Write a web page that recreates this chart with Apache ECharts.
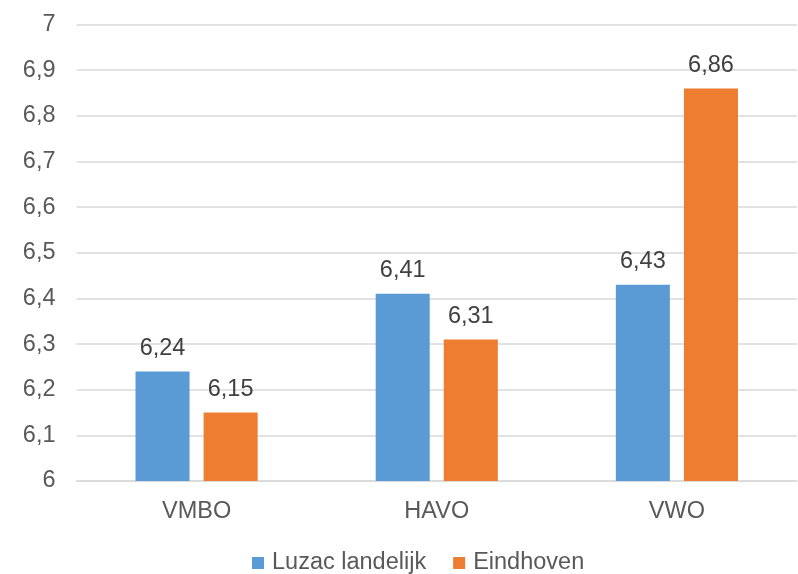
<!DOCTYPE html>
<html><head><meta charset="utf-8">
<script src="https://cdn.jsdelivr.net/npm/echarts@6/dist/echarts.min.js"></script>
<style>html,body{margin:0;padding:0;background:#fff}#c{width:798px;height:574px}</style>
</head><body><div id="c"></div>
<script>
const categories = ['VMBO', 'HAVO', 'VWO'];
const luzac = [6.24, 6.41, 6.43];
const eindhoven = [6.15, 6.31, 6.86];
const seriesNames = ['Luzac landelijk', 'Eindhoven'];

const fmt = v => String(v).replace('.', ',');
const font = 'Liberation Sans, Arial, sans-serif';
const FS = 23.5;
const chart = echarts.init(document.getElementById('c'));
chart.setOption({
  animation: false,
  textStyle: { fontFamily: font },
  grid: { left: 76.5, right: 1, top: 24.5, bottom: 93, containLabel: false },
  legend: {
    top: 546, left: 247, itemWidth: 12, itemHeight: 12, itemGap: 27,
    icon: 'rect',
    textStyle: { fontSize: FS, color: '#595959', fontFamily: font, padding: [0, 0, 0, 3] },
    data: seriesNames
  },
  xAxis: {
    type: 'category', data: categories,
    axisLine: { lineStyle: { color: '#d9d9d9', width: 1.5 } },
    axisTick: { show: false },
    axisLabel: { fontSize: FS, color: '#595959', margin: 19 }
  },
  yAxis: {
    type: 'value', min: 6, max: 7, interval: 0.1,
    axisLine: { show: false }, axisTick: { show: false },
    splitLine: { lineStyle: { color: '#d9d9d9', width: 1.5 } },
    axisLabel: { fontSize: FS, color: '#595959', margin: 21,
      formatter: v => fmt(Math.round(v * 10) / 10) }
  },
  series: [
    { name: seriesNames[0], type: 'bar', data: luzac, barWidth: '22.5%', barGap: '26%',
      itemStyle: { color: '#5b9bd5' },
      label: { show: true, position: 'top', distance: 11, fontSize: FS, color: '#404040', formatter: p => fmt(p.value) } },
    { name: seriesNames[1], type: 'bar', data: eindhoven, barWidth: '22.5%', barGap: '26%',
      itemStyle: { color: '#ed7d31' },
      label: { show: true, position: 'top', distance: 11, fontSize: FS, color: '#404040', formatter: p => fmt(p.value) } }
  ]
});
</script></body></html>
